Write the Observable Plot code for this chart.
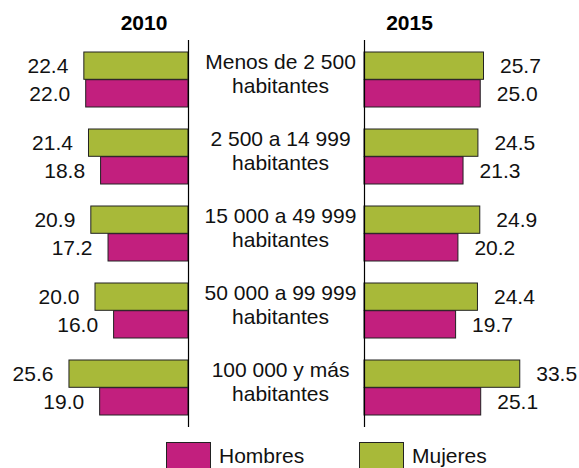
<!DOCTYPE html>
<html>
<head>
<meta charset="utf-8">
<script src="https://cdn.jsdelivr.net/npm/d3@7"></script>
<script src="https://cdn.jsdelivr.net/npm/@observablehq/plot@0.6"></script>
<style>
  html, body { margin: 0; padding: 0; background: #fff; }
  #wrap { position: relative; width: 579px; height: 468px; overflow: hidden; font-family: "Liberation Sans", Arial, sans-serif; }
  #left, #right { position: absolute; top: 0; }
  #left { left: 0; }
  #right { left: 200px; }
  #legend { position: absolute; top: 442px; left: 0; width: 579px; height: 26px; font-size: 21px; color: #111; }
  .item { position: absolute; top: 0; display: flex; align-items: flex-start; }
  .sw { width: 43px; height: 27px; border: 1px solid #222; }
  .lab { margin-left: 8px; line-height: 24px; padding-top: 2px; }
</style>
</head>
<body>
<div id="wrap">
  <div id="left"></div>
  <div id="right"></div>
  <div id="legend"></div>
</div>
<script>
const categories = [
  "Menos de 2 500\nhabitantes",
  "2 500 a 14 999\nhabitantes",
  "15 000 a 49 999\nhabitantes",
  "50 000 a 99 999\nhabitantes",
  "100 000 y más\nhabitantes"
];
const years = ["2010", "2015"];
const series = ["Hombres", "Mujeres"];
const mujeres2010 = [22.4, 21.4, 20.9, 20.0, 25.6];
const hombres2010 = [22.0, 18.8, 17.2, 16.0, 19.0];
const mujeres2015 = [25.7, 24.5, 24.9, 24.4, 33.5];
const hombres2015 = [25.0, 21.3, 20.2, 19.7, 25.1];

const colors = { Hombres: "#C21F7E", Mujeres: "#A8B939" };
const FONT = "Liberation Sans, Arial, sans-serif";
const FS = 21;
const H = 436;
const half = 27.7;

function rows(vals) { return categories.map((c, i) => ({ cat: c, v: vals[i] })); }

const yOpts = { domain: categories, paddingInner: 0.284, paddingOuter: 0.142, axis: null };

function panel({ width, marginLeft, marginRight, domain, reverse, muj, hom, anchor, dxv, title, titleDx, withLabels }) {
  const marks = [
    Plot.barX(rows(muj), { x: "v", y: "cat", fill: colors.Mujeres, stroke: "#222", strokeWidth: 1, insetBottom: half }),
    Plot.barX(rows(hom), { x: "v", y: "cat", fill: colors.Hombres, stroke: "#222", strokeWidth: 1, insetTop: half }),
    Plot.ruleX([0], { stroke: "#000", strokeWidth: 1.2 }),
    Plot.text(rows(muj), { x: "v", y: "cat", text: d => d.v.toFixed(1), textAnchor: anchor, dx: dxv, dy: -half / 2, fontSize: FS, fill: "#111" }),
    Plot.text(rows(hom), { x: "v", y: "cat", text: d => d.v.toFixed(1), textAnchor: anchor, dx: dxv, dy: half / 2, fontSize: FS, fill: "#111" }),
    Plot.text([title], { text: d => d, frameAnchor: "top", lineAnchor: "middle", dx: titleDx, dy: -17, fontSize: FS, fontWeight: "bold", fill: "#000" })
  ];
  if (withLabels) {
    marks.push(Plot.text(categories, { y: d => d, text: d => d, frameAnchor: "left", dx: -84, dy: -7, textAnchor: "middle", lineAnchor: "middle", lineHeight: 1.17, fontSize: FS, fill: "#111" }));
  }
  return Plot.plot({
    width, height: H,
    marginTop: 40, marginBottom: H - 427, marginLeft, marginRight,
    style: { fontFamily: FONT, background: "transparent", overflow: "visible" },
    x: { domain, reverse, axis: null },
    y: yOpts,
    marks
  });
}

document.getElementById("left").append(panel({
  width: 200, marginLeft: 0, marginRight: 12, domain: [0, 40.43], reverse: true,
  muj: mujeres2010, hom: hombres2010, anchor: "end", dxv: -16,
  title: years[0], titleDx: 143.5 - 94, withLabels: false
}));
document.getElementById("right").append(panel({
  width: 379, marginLeft: 164, marginRight: 0, domain: [0, 46.24], reverse: false,
  muj: mujeres2015, hom: hombres2015, anchor: "start", dxv: 16,
  title: years[1], titleDx: 209 - 271.5, withLabels: true
}));

const legend = document.getElementById("legend");
const pos = { Hombres: 166, Mujeres: 359 };
series.forEach(s => {
  const it = document.createElement("div");
  it.className = "item";
  it.style.left = pos[s] + "px";
  const sw = document.createElement("div");
  sw.className = "sw";
  sw.style.background = colors[s];
  const lab = document.createElement("span");
  lab.className = "lab";
  lab.textContent = s;
  it.append(sw, lab);
  legend.append(it);
});
</script>
</body>
</html>
